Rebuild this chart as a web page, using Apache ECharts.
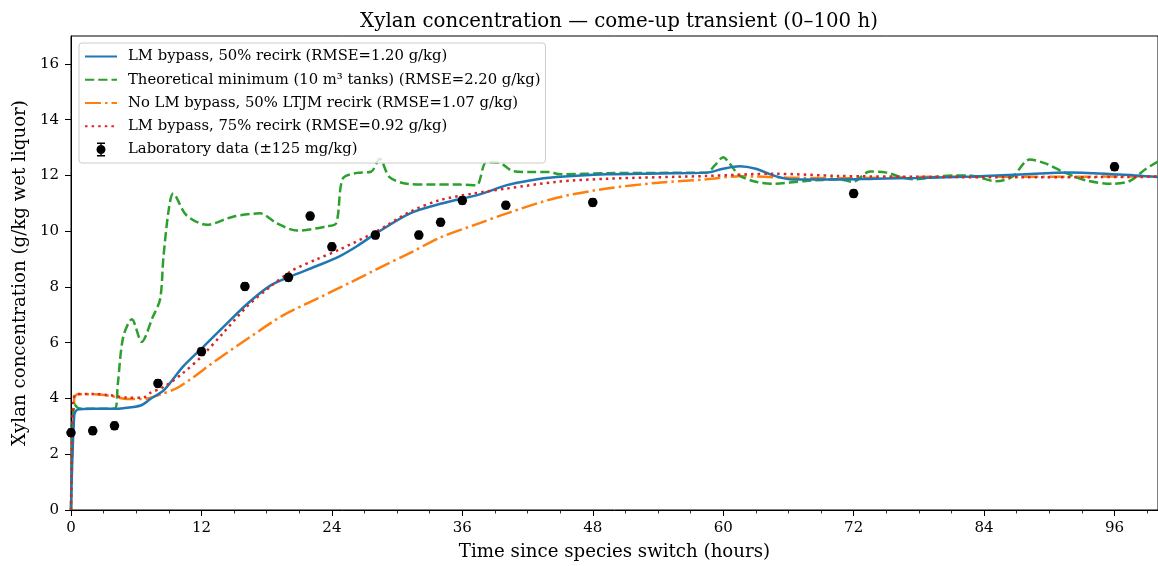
<!DOCTYPE html>
<html>
<head>
<meta charset="utf-8">
<script src="https://cdn.jsdelivr.net/npm/echarts@6/dist/echarts.min.js"></script>
<style>html,body{margin:0;padding:0;background:#fff;overflow:hidden}#c{width:1158px;height:566px}</style>
</head>
<body>
<div id="c"></div>
<script>
// ---- data ----
const xTicks = [0, 12, 24, 36, 48, 60, 72, 84, 96];
const yTicks = [0, 2, 4, 6, 8, 10, 12, 14, 16];

const blueTime = [0,0.3,0.6,2,4,4.8,6.4,7.3,8.6,10.3,12.0,14.0,16.2,18.3,20.1,22.6,24.7,26.3,28.1,31.2,34.2,37.6,40.1,42.2,44.7,49.3,54,58.5,60,61.5,63,64.6,66.4,70.7,74,78.1,83,87.3,91.9,96.5,100];
const blueVal  = [0,3.4,3.6,3.63,3.63,3.65,3.75,3.98,4.32,5.14,5.79,6.56,7.39,8.04,8.36,8.75,9.10,9.46,9.93,10.64,11.0,11.32,11.65,11.82,11.94,12.04,12.07,12.10,12.24,12.33,12.24,12.0,11.85,11.85,11.88,11.91,11.96,12.03,12.10,12.03,11.94];

const greenTime = [0,0.3,0.7,2,4,4.3,4.8,5.6,6.5,7.5,8.2,8.5,9.0,9.4,10.6,12.5,14.9,17.4,18.9,20.8,23.5,24.4,25.0,26.3,27.6,28.4,29.3,30.9,33,35.8,37.3,38.2,39.4,40.7,42.5,44,45,49.3,54,58.5,59.2,60,60.6,61.5,63,64.6,67.6,70.7,71.9,73.5,75,77.4,81.1,82.6,85.1,86.6,88.2,89.7,91.3,93.4,95.8,97.4,98.9,100];
const greenVal  = [0,3.8,3.65,3.63,3.63,4.5,6.2,6.84,6.03,6.9,7.57,9.05,10.8,11.35,10.58,10.23,10.52,10.64,10.29,10.02,10.17,10.29,11.88,12.09,12.13,12.6,11.94,11.7,11.67,11.67,11.65,12.47,12.45,12.15,12.12,12.12,12.04,12.08,12.09,12.1,12.35,12.65,12.42,12.0,11.77,11.7,11.8,11.86,11.77,12.14,12.1,11.86,12.0,12.0,11.79,11.95,12.57,12.42,12.12,11.82,11.7,11.8,12.24,12.5];

const orangeTime = [0,0.3,0.6,2,3.5,5.2,6.6,8.2,10.0,13.4,16.5,19.5,22.6,25.7,28.7,31.2,33.9,37.6,40.1,44.7,49.3,53.8,58.5,61.5,66,70.7,80,90,100];
const orangeVal  = [0,4.0,4.15,4.15,4.1,3.98,3.98,4.14,4.43,5.38,6.21,6.98,7.57,8.16,8.75,9.22,9.76,10.29,10.64,11.2,11.53,11.73,11.86,11.97,11.92,11.9,11.95,11.95,11.97];

const redTime = [0,0.2,0.5,2,3.5,5.2,6.6,7.3,8.6,10.3,12.0,14.0,16.2,18.3,20.4,22.6,24.7,28.1,31.2,33.9,37,40.1,44.7,49.3,58.5,64.6,70.7,78,87,100];
const redVal  = [0,3.9,4.16,4.16,4.12,4.03,4.03,4.2,4.43,4.91,5.5,6.35,7.3,8.0,8.6,8.99,9.34,9.99,10.70,11.11,11.35,11.53,11.77,11.88,11.98,12.06,11.98,11.95,11.93,11.95];

const labTime = [0,2,4,8,12,16,20,22,24,28,32,34,36,40,48,72,96];
const labVal  = [2.77,2.84,3.02,4.54,5.68,8.02,8.34,10.54,9.44,9.86,9.86,10.32,11.10,10.93,11.03,11.35,12.31];
const labErr  = [0.125,0.125,0.125,0.125,0.125,0.125,0.125,0.125,0.125,0.125,0.125,0.125,0.125,0.125,0.125,0.125,0.125];

const names = [
  'LM bypass, 50% recirk (RMSE=1.20 g/kg)',
  'Theoretical minimum (10 m\u00b3 tanks) (RMSE=2.20 g/kg)',
  'No LM bypass, 50% LTJM recirk (RMSE=1.07 g/kg)',
  'LM bypass, 75% recirk (RMSE=0.92 g/kg)',
  'Laboratory data (\u00b1125 mg/kg)'
];

// ---- chart ----
const FONT = '"DejaVu Serif", serif';
const zip = (a, b) => a.map((t, i) => [t, b[i]]);

function lineSeries(name, t, v, color, type, z) {
  return {
    name, type: 'line', data: zip(t, v), smooth: 0.3, symbol: 'none', showSymbol: false,
    lineStyle: { color, width: 2.5, type, cap: 'butt' }, itemStyle: { color },
    z, animation: false, clip: true
  };
}
const hideSym = { color: 'rgba(0,0,0,0)', borderColor: 'rgba(0,0,0,0)', borderWidth: 0, opacity: 0 };

const chart = echarts.init(document.getElementById('c'), null, { renderer: 'canvas' });
chart.setOption({
  animation: false,
  backgroundColor: '#fff',
  title: {
    text: 'Xylan concentration \u2014 come-up transient (0\u2013100 h)',
    left: 614, top: 7, textAlign: 'center',
    textStyle: { fontFamily: FONT, fontSize: 19.8, fontWeight: 'normal', color: '#000' }
  },
  grid: { left: 71, right: -1, top: 36, bottom: 51, show: true, borderColor: '#000', borderWidth: 1, backgroundColor: 'transparent' },
  legend: {
    orient: 'vertical', left: 79, top: 43,
    padding: [6, 5, 6, 5],
    itemWidth: 32, itemHeight: 14, itemGap: 8.25,
    backgroundColor: 'rgba(255,255,255,0.8)', borderColor: '#cccccc', borderWidth: 1, borderRadius: 3,
    textStyle: { fontFamily: FONT, fontSize: 14.8, color: '#000', padding: [0, 0, 0, 6] },
    data: [
      { name: names[0], itemStyle: hideSym }, { name: names[1], itemStyle: hideSym },
      { name: names[2], itemStyle: hideSym }, { name: names[3], itemStyle: hideSym },
      { name: names[4], icon: 'path://M2,0h8v1.4h-8z M5.3,0h1.4v14h-1.4z M2,12.6h8v1.4h-8z M1.5,7a4.5,4.5 0 1,1 9,0a4.5,4.5 0 1,1 -9,0z' }
    ]
  },
  xAxis: {
    type: 'value', min: 0, max: 100, interval: 12,
    name: 'Time since species switch (hours)', nameLocation: 'middle', nameGap: 33,
    nameTextStyle: { fontFamily: FONT, fontSize: 18.2, color: '#000' },
    axisLine: { show: true, onZero: false, lineStyle: { color: '#000', width: 1 } },
    axisTick: { show: true, length: 6, lineStyle: { color: '#000', width: 1 } },
    minorTick: { show: true, splitNumber: 4, length: 3.5, lineStyle: { color: '#000', width: 0.8 } },
    axisLabel: { margin: 11, fontFamily: FONT, fontSize: 15, color: '#000', showMaxLabel: false },
    splitLine: { show: false }
  },
  yAxis: {
    type: 'value', min: 0, max: 17, interval: 2,
    name: 'Xylan concentration (g/kg wet liquor)', nameLocation: 'middle', nameGap: 39,
    nameTextStyle: { fontFamily: FONT, fontSize: 18.2, color: '#000' },
    axisLine: { show: true, onZero: false, lineStyle: { color: '#000', width: 1 } },
    axisTick: { show: true, length: 6, lineStyle: { color: '#000', width: 1 } },
    axisLabel: { margin: 12, fontFamily: FONT, fontSize: 15, color: '#000', showMaxLabel: false },
    splitLine: { show: false }
  },
  series: [
    lineSeries(names[0], blueTime, blueVal, '#1f77b4', 'solid', 4),
    lineSeries(names[1], greenTime, greenVal, '#2ca02c', [9.25, 4], 3),
    lineSeries(names[2], orangeTime, orangeVal, '#ff7f0e', [16, 4, 2.5, 4], 2),
    lineSeries(names[3], redTime, redVal, '#d62728', [2.5, 4.1], 5),
    {
      name: names[4], type: 'scatter', data: zip(labTime, labVal),
      symbol: 'circle', symbolSize: 9.5, itemStyle: { color: '#000', opacity: 1 }, z: 6, animation: false
    },
    {
      name: 'errbars', type: 'custom', z: 6, animation: false,
      data: labTime.map((t, i) => [t, labVal[i], labErr[i]]),
      renderItem: function (params, api) {
        const x = api.value(0), y = api.value(1), e = api.value(2);
        const top = api.coord([x, y + e]);
        const bot = api.coord([x, y - e]);
        const cap = 3;
        const st = { stroke: '#000', lineWidth: 1.5 };
        return {
          type: 'group',
          children: [
            { type: 'line', shape: { x1: top[0], y1: top[1], x2: bot[0], y2: bot[1] }, style: st },
            { type: 'line', shape: { x1: top[0] - cap, y1: top[1], x2: top[0] + cap, y2: top[1] }, style: st },
            { type: 'line', shape: { x1: bot[0] - cap, y1: bot[1], x2: bot[0] + cap, y2: bot[1] }, style: st }
          ]
        };
      }
    }
  ]
});
</script>
</body>
</html>
